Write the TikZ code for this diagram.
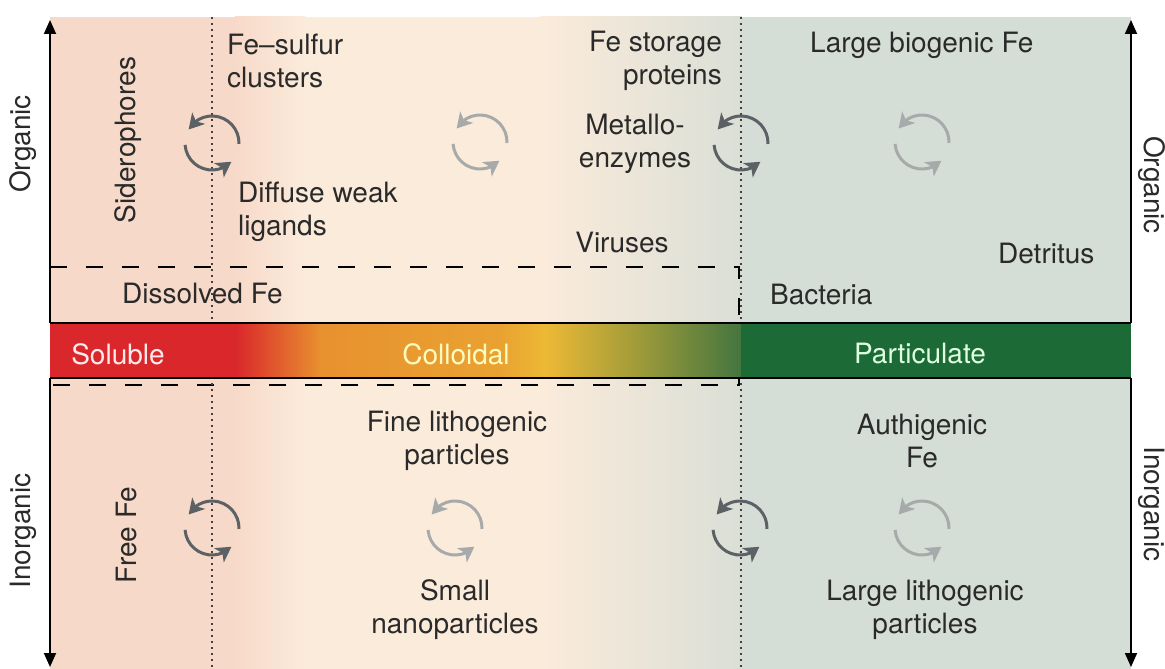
\documentclass[tikz,border=0pt]{standalone}
\usepackage{fontspec}
\setmainfont{TeX Gyre Heros}
\usetikzlibrary{arrows.meta, bending, positioning}

\definecolor{bgpink}{HTML}{F7D9C9}
\definecolor{bgcream}{HTML}{FBEBDB}
\definecolor{bgmix}{HTML}{DADFD6}
\definecolor{bggreen}{HTML}{D4DDD6}
\definecolor{barred}{HTML}{D9272B}
\definecolor{barorange}{HTML}{E8912F}
\definecolor{baramber}{HTML}{E9A231}
\definecolor{baryellow}{HTML}{EDB935}
\definecolor{barolive}{HTML}{9C9A3A}
\definecolor{barmoss}{HTML}{43753F}
\definecolor{bargreen}{HTML}{1C6B37}
\definecolor{cycdark}{HTML}{5C6165}
\definecolor{cyclight}{HTML}{A7AAAA}
\definecolor{labelgray}{HTML}{2A2A2A}

\begin{document}
\begin{tikzpicture}[
    x=1pt, y=-1pt,
    every node/.style={font=\fontsize{28}{33}\selectfont, text=labelgray},
    label text/.style={inner sep=0pt, align=left},
    bar text/.style={inner sep=0pt},
    side text/.style={inner sep=0pt},
    axis arrow/.style={-{Triangle[length=14pt, width=12pt]}, line width=1.8pt},
    turnover/.style={line width=3pt, -{Stealth[length=15pt, width=17pt, inset=4pt, flex]}},
    size cut/.style={dash pattern=on 1.8pt off 4.2pt, line width=1.8pt, draw=black!75},
    dissolved box/.style={dash pattern=on 17pt off 19pt, line width=2.2pt}
]
\useasboundingbox (0,0) rectangle (1165,669);

% Background
\fill[bgpink] (50,17) rectangle (236,669);
\shade[left color=bgpink, right color=bgcream] (235,17) rectangle (305,669);
\fill[bgcream] (304,17) rectangle (541,669);
\shade[left color=bgcream, right color=bgmix] (540,17) rectangle (742,669);
\fill[bggreen] (741,17) rectangle (1131,669);

% Dissolved Fe box and size cut-offs
\draw[dissolved box] (50,267) -- (739,267) -- (739,385) -- (50,385);
\draw[size cut] (212,17) -- (212,669);
\draw[size cut] (741,17) -- (741,669);

% Colour bar
\fill[barred] (50,323) rectangle (236,378);
\shade[left color=barred, right color=barorange] (235,323) rectangle (321,378);
\shade[left color=barorange, right color=baramber] (320,323) rectangle (501,378);
\shade[left color=baramber, right color=baryellow] (500,323) rectangle (546,378);
\shade[left color=baryellow, right color=barolive] (545,323) rectangle (641,378);
\shade[left color=barolive, right color=barmoss] (640,323) rectangle (742,378);
\fill[bargreen] (741,323) rectangle (1131,378);
\draw[line width=2pt] (50,323) -- (1131,323);
\draw[line width=2pt] (50,378) -- (1131,378);

\node[bar text, text=white!92!red] (soluble) at (118,354) {Soluble};
\node[bar text, text=yellow!25!white] (colloidal) at (456,354) {Colloidal};
\node[bar text, text=green!12!white] (particulate) at (920,354) {Particulate};

% Axes
\coordinate (ltop) at (50,20);
\coordinate (lbot) at (50,667);
\coordinate (rtop) at (1131,20);
\coordinate (rbot) at (1131,667);
\draw[axis arrow] (50,323) -- (ltop);
\draw[axis arrow] (50,378) -- (lbot);
\draw[axis arrow] (1131,323) -- (rtop);
\draw[axis arrow] (1131,378) -- (rbot);

\node[side text, rotate=90] (orgL) at (23,144) {Organic};
\node[side text, rotate=90] (inorgL) at (23,531) {Inorganic};
\node[side text, rotate=-90] (orgR) at (1152,185) {Organic};
\node[side text, rotate=-90] (inorgR) at (1152,504) {Inorganic};

% Exchange cycles
\foreach \cx/\cy/\cc in {212/143/cycdark, 480/142/cyclight, 741/143/cycdark, 922/142/cyclight,
                         212/528/cycdark, 455/528/cyclight, 740/528/cycdark, 922/528/cyclight} {
    \draw[turnover, \cc] (\cx,\cy) ++(2:27) arc[start angle=2, end angle=-150, radius=27];
    \draw[turnover, \cc] (\cx,\cy) ++(176:27) arc[start angle=176, end angle=44, radius=27];
}

% Organic species
\node[side text, rotate=90] (sidero) at (128,140) {Siderophores};
\node[label text, anchor=west] (fesulfur) at (227,61) {Fe--sulfur\\clusters};
\node[label text, anchor=west] (diffuse) at (238,212) {Diffuse weak\\ligands};
\node[label text, anchor=west] (dissolved) at (122,294) {Dissolved Fe};
\node[label text, anchor=east, align=right] (storage) at (722,61) {Fe storage\\proteins};
\node[label text, align=center] (metallo) at (635,144) {Metallo-\\enzymes};
\node[label text] (viruses) at (622,243) {Viruses};
\node[label text, anchor=west] (largebio) at (810,45) {Large biogenic Fe};
\node[label text, anchor=west] (detritus) at (998,254) {Detritus};
\node[label text, anchor=west] (bacteria) at (770,295) {Bacteria};

% Inorganic species
\node[side text, rotate=90] (freefe) at (127,535) {Free Fe};
\node[label text, align=center] (finelitho) at (457,441) {Fine lithogenic\\particles};
\node[label text, align=center] (nano) at (455,610) {Small\\nanoparticles};
\node[label text, align=center] (authi) at (922,441) {Authigenic\\Fe};
\node[label text, align=center] (largelitho) at (925,610) {Large lithogenic\\particles};

\end{tikzpicture}
\end{document}
